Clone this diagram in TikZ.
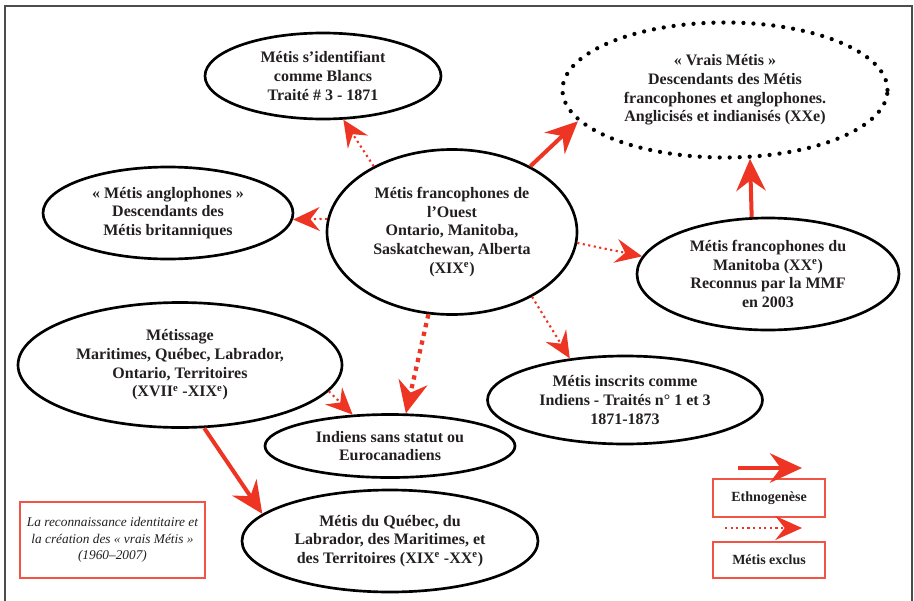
\documentclass[tikz,border=0pt]{standalone}
\usepackage{fontspec}
\setmainfont{Liberation Serif}
\usetikzlibrary{shapes.geometric,arrows.meta}
\definecolor{ethred}{RGB}{238,53,36}
\definecolor{ink}{RGB}{35,31,32}

\begin{document}
\begin{tikzpicture}[x=0.75pt,y=-0.75pt,font=\fontsize{12}{14}\selectfont\bfseries,
    bulle/.style={ellipse,draw=black,line width=2pt,align=center,inner sep=0pt,text=ink},
    pointille/.style={bulle,line width=3.2pt,dash pattern=on 0pt off 7.5pt,line cap=round},
    cadre/.style={rectangle,draw=ethred!85,line width=1pt,align=center,inner sep=0pt,text=ink},
    ethno/.style={draw=ethred,line width=3pt,-{Stealth[length=24pt,width=22pt,inset=8pt]}},
    exclu/.style={draw=ethred,line width=1.6pt,dash pattern=on 1.6pt off 2.6pt,
      -{Stealth[length=20pt,width=18pt,inset=7pt]}},
    exclufort/.style={exclu,line width=3.2pt,dash pattern=on 3.2pt off 3.5pt,
      -{Stealth[length=24pt,width=22pt,inset=8pt]}}]

  \useasboundingbox (0,0) rectangle (914,600);
  \draw[black!70,line width=1.5pt] (5,620) -- (5,6) -- (912,6) -- (912,620);

  \node[bulle,minimum width=187.5pt,minimum height=123.75pt] (ouest) at (452,232)
    {Métis francophones de\\l’Ouest\\Ontario, Manitoba,\\Saskatchewan, Alberta\\(XIX\textsuperscript{e})};
  \node[bulle,minimum width=177pt,minimum height=64.5pt] (blancs) at (323,76)
    {Métis s’identifiant\\comme Blancs\\Traité \# 3 - 1871};
  \node[pointille,minimum width=243.75pt,minimum height=101.25pt] (vrais) at (725,90)
    {« Vrais Métis »\\Descendants des Métis\\francophones et anglophones.\\Anglicisés et indianisés (XXe)};
  \node[bulle,minimum width=187.5pt,minimum height=69pt] (anglo) at (168,213)
    {« Métis anglophones »\\Descendants des\\Métis britanniques};
  \node[bulle,minimum width=196.5pt,minimum height=84pt] (manitoba) at (768,274)
    {Métis francophones du\\Manitoba (XX\textsuperscript{e})\\Reconnus par la MMF\\en 2003};
  \node[bulle,minimum width=206.25pt,minimum height=66pt] (inscrits) at (625,400)
    {Métis inscrits comme\\Indiens - Traités n° 1 et 3\\1871-1873};
  \node[bulle,minimum width=243pt,minimum height=93.75pt] (metissage) at (180,365)
    {Métissage\\Maritimes, Québec, Labrador,\\Ontario, Territoires\\(XVII\textsuperscript{e} -XIX\textsuperscript{e})};
  \node[bulle,minimum width=187.5pt,minimum height=47.25pt] (indiens) at (390,446)
    {Indiens sans statut ou\\Eurocanadiens};
  \node[bulle,minimum width=222pt,minimum height=76.5pt] (quebec) at (390,541)
    {Métis du Québec, du\\Labrador, des Maritimes, et\\des Territoires (XIX\textsuperscript{e} -XX\textsuperscript{e})};

  \node[cadre,minimum width=138.75pt,minimum height=57pt,font=\fontsize{10}{12.4}\selectfont\itshape]
    (titre) at (112.5,540) {La reconnaissance identitaire et\\la création des « vrais Métis »\\(1960–2007)};
  \node[cadre,minimum width=84pt,minimum height=28.5pt,font=\fontsize{10.5}{12}\selectfont\bfseries]
    (legethno) at (769,498) {Ethnogenèse};
  \node[cadre,minimum width=84pt,minimum height=27pt,font=\fontsize{10.5}{12}\selectfont\bfseries]
    (legexclu) at (769,560) {Métis exclus};
  \coordinate (e1) at (738,468);
  \coordinate (e2) at (802,468);
  \coordinate (x1) at (725,528);
  \coordinate (x2) at (802,528);

  \path (ouest.140) edge[exclu] (blancs.295)
        (ouest.174) edge[exclu] (anglo.357)
        (ouest.40)  edge[ethno] (vrais.192)
        (ouest.355) edge[exclu] (manitoba.172)
        (ouest.321) edge[exclu] (inscrits.143)
        (ouest.254) edge[exclufort] (indiens.64);
  \path (metissage.350) edge[exclu] (indiens.140)
        (metissage.291) edge[ethno] (quebec.168);
  \path (manitoba.106) edge[ethno] (vrais.290);
  \path (e1) edge[ethno] (e2)
        (x1) edge[exclu] (x2);
\end{tikzpicture}
\end{document}
